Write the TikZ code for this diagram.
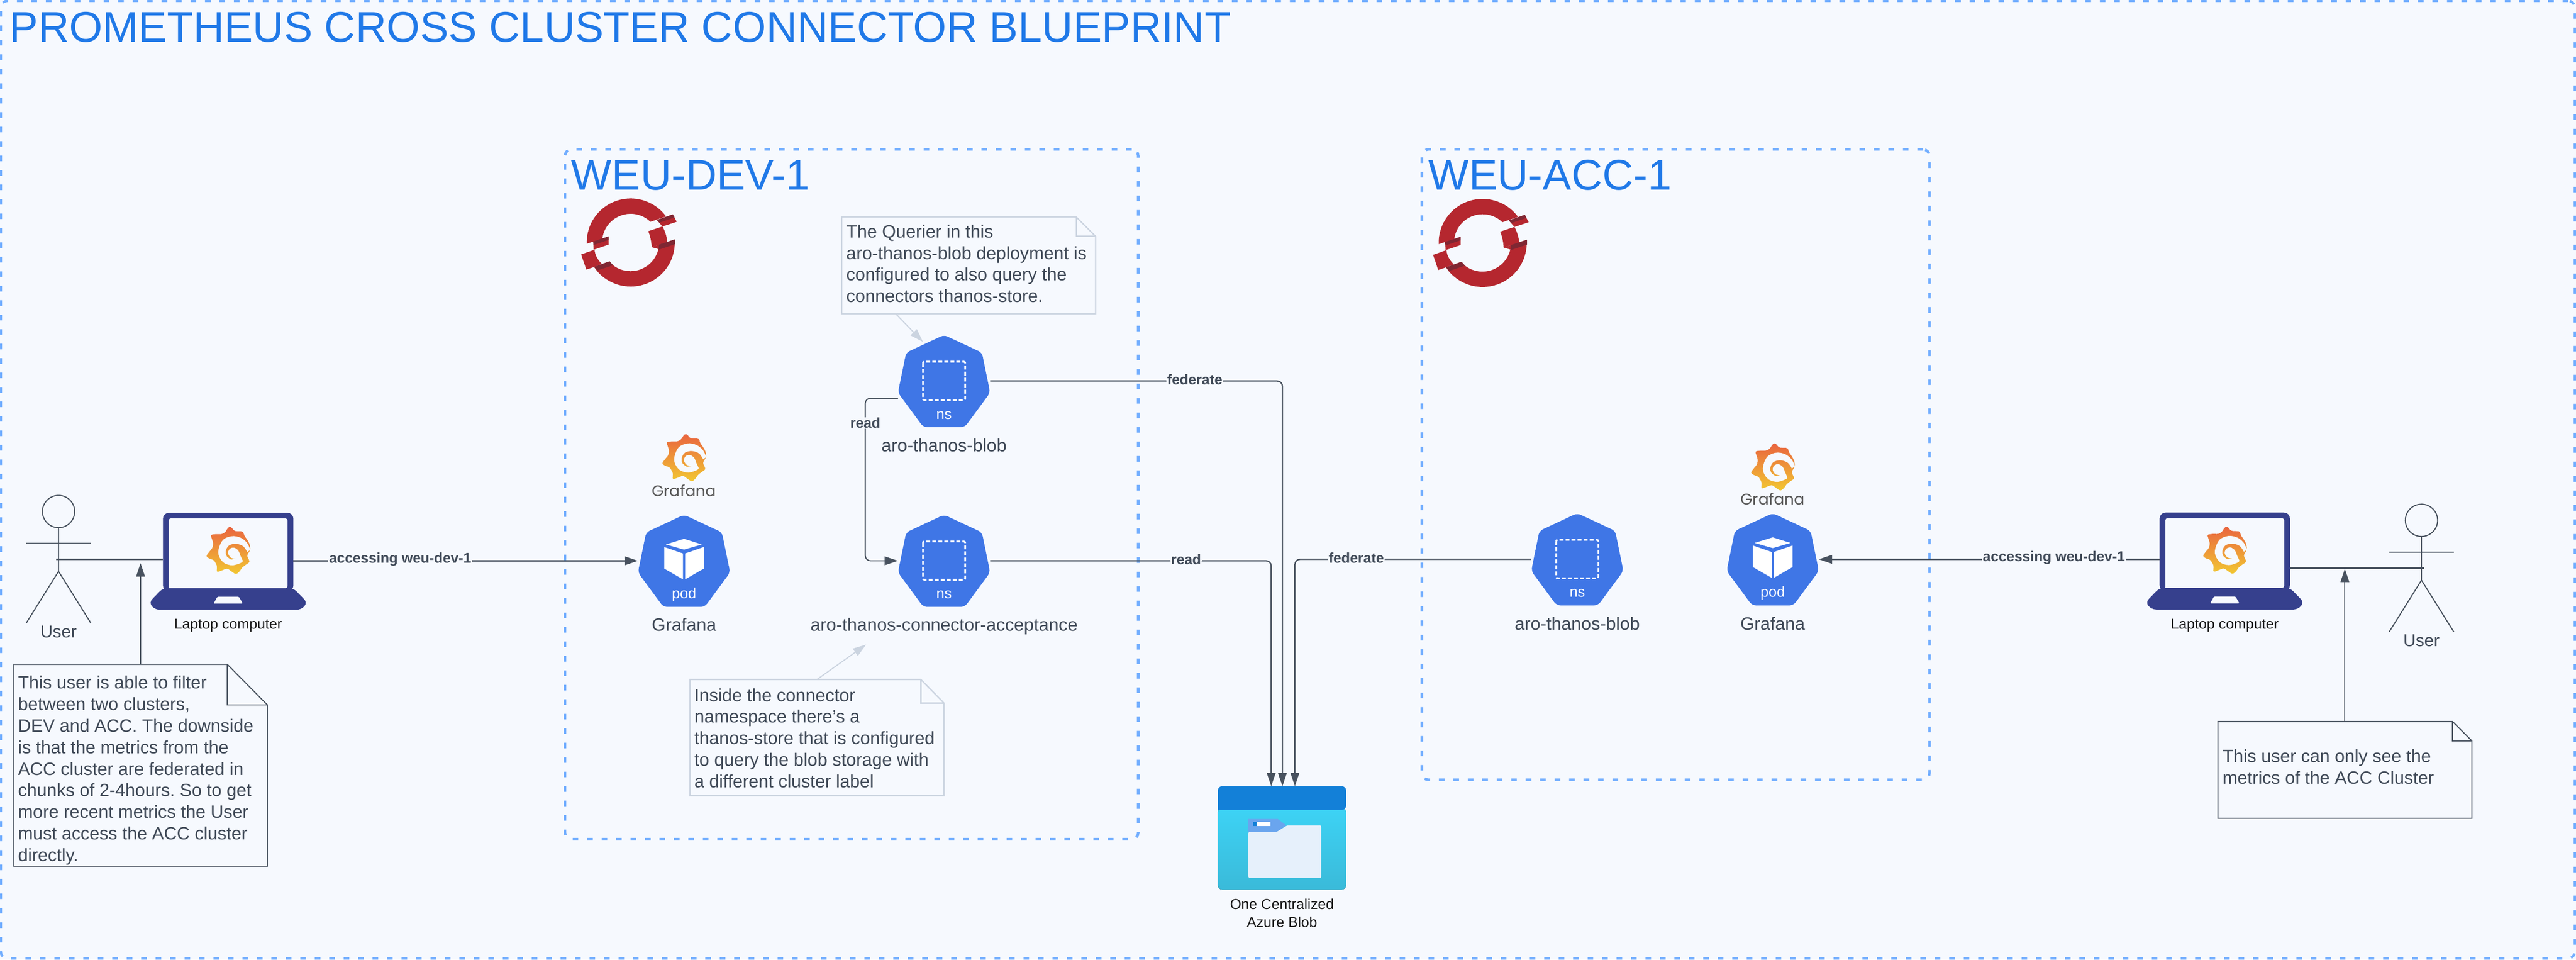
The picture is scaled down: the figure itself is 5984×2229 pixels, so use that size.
\documentclass[tikz,border=0pt]{standalone}
\usepackage{fontspec}
\setmainfont{Liberation Sans}
\newfontfamily\wordfont{Poppins}
\usetikzlibrary{positioning, arrows.meta}
\frenchspacing

\definecolor{pagebg}{HTML}{F6F9FE}
\definecolor{framecol}{HTML}{72AEFF}
\definecolor{titlecol}{HTML}{2079E8}
\definecolor{linkcol}{HTML}{48525F}
\definecolor{inkcol}{HTML}{404A58}
\definecolor{palecol}{HTML}{CBD4E0}
\definecolor{kubecol}{HTML}{3F76E6}
\definecolor{lapcol}{HTML}{36408D}
\definecolor{osred}{HTML}{B5272F}
\definecolor{osdark}{HTML}{7F2733}
\definecolor{grafanatop}{HTML}{E9633F}
\definecolor{grafanabot}{HTML}{F2C832}
\definecolor{azuretop}{HTML}{3DD3F5}
\definecolor{azurebot}{HTML}{3ABAD9}
\definecolor{azurehead}{HTML}{1380D8}
\definecolor{foldertab}{HTML}{6AA5EE}
\definecolor{folderbody}{HTML}{E6F0FB}

\newcommand{\dogear}[4]{
	\draw[#2] (#1.north west) -- ([xshift=-#3]#1.north east) -- ([yshift=-#4]#1.north east) -- (#1.south east) -- (#1.south west) -- cycle;
	\draw[#2] ([xshift=-#3]#1.north east) |- ([yshift=-#4]#1.north east);
}

\tikzset{
	framebox/.style={draw=framecol, line width=6pt, rounded corners=15pt, dash pattern=on 13pt off 20.6pt},
	titletext/.style={text=titlecol, font=\fontsize{99.8pt}{110pt}\selectfont},
	kubebox/.style={minimum width=214pt, minimum height=214pt},
	tagtext/.style={text=white, text depth=0pt, font=\fontsize{34pt}{40pt}\selectfont},
	nametext/.style={text=inkcol, text height=30pt, text depth=9pt, font=\fontsize{41.5pt}{50pt}\selectfont},
	wordtext/.style={text=black!65, font=\wordfont\fontsize{36pt}{40pt}\selectfont},
	captiontext/.style={text=black!90, align=center, font=\fontsize{33.4pt}{41pt}\selectfont},
	linklabel/.style={text=inkcol, fill=pagebg, inner xsep=2pt, inner ysep=1pt, yshift=3pt, font=\bfseries\fontsize{33pt}{40pt}\selectfont},
	link/.style={draw=linkcol, line width=3pt},
	palelink/.style={draw=palecol, line width=2.5pt},
	notetext/.style={text=inkcol, align=left, anchor=north west, font=\fontsize{41.5pt}{50pt}\selectfont},
	notedark/.style={draw=linkcol, line width=2.5pt},
	notepale/.style={draw=palecol, line width=3pt},
	pics/kubeshape/.style={code={
		\fill[kubecol, rounded corners=9pt] (0,-107) -- (88,-66) -- (107,27) -- (48,107) -- (-48,107) -- (-107,27) -- (-88,-66) -- cycle;
	}},
	pics/kubens/.style={code={
		\pic {kubeshape};
		\draw[white, line width=4pt, rounded corners=3pt, dash pattern=on 9pt off 5pt] (-49,-45) rectangle (49,44);
	}},
	pics/kubepod/.style={code={
		\pic {kubeshape};
		\fill[white] (0,-51) -- (41,-38) -- (0,-26) -- (-42,-38) -- cycle;
		\fill[white] (-46,-32) -- (-2.5,-17) -- (-2.5,43) -- (-46,18) -- cycle;
		\fill[white] (2.5,-17) -- (46,-32) -- (46,18) -- (2.5,43) -- cycle;
	}},
	pics/grafana/.style={code={
		\begin{scope}[x=.3333pt, y=-.3333pt, shift={(-195,-203)}]
			\path[top color=grafanatop, bottom color=grafanabot, rounded corners=4pt] (208,36) -- (222,48) -- (238,70) -- (300,72) -- (307,102) -- (325,125) -- (345,160) -- (350,200) -- (325,240) -- (347,285) -- (320,302) -- (290,325) -- (278,347) -- (250,372) -- (225,355) -- (188,328) -- (160,340) -- (115,357) -- (118,310) -- (95,270) -- (65,262) -- (40,245) -- (68,208) -- (85,190) -- (92,155) -- (72,95) -- (115,90) -- (150,92) -- (178,75) -- (190,50) -- cycle;
			\fill[pagebg] plot[smooth, tension=.6] coordinates {(350,200) (325,150) (280,115) (220,105) (160,130) (130,190) (130,240) (165,290) (225,308) (285,290) (297,276)}
				-- plot[smooth, tension=.6] coordinates {(280,240) (265,205) (235,185) (205,195) (195,225) (215,255) (250,262)}
				-- plot[smooth, tension=.6] coordinates {(215,268) (185,245) (178,210) (200,170) (250,158) (300,175) (328,215)} -- cycle;
		\end{scope}
	}},
	pics/openshift/.style={code={
		\fill[osred] (178.3:102) arc[start angle=178.3, end angle=323.7, radius=102] -- (46,-48) arc[start angle=313.8, end angle=187.9, radius=66.5] -- (-51,-14) -- (-51,5) -- (-86,17) -- (-87,-2) -- cycle;
		\fill[osred] (61,-52) -- (98,-65) -- (107,-48) -- (74,-37) -- cycle;
		\fill[osred] (41,-26) -- (74,-37) .. controls (81,-24) and (84,-12) .. (85,-1) -- (49,11) .. controls (48,-3) and (46,-13) .. cycle;
		\fill[osred] (-3.9:102.5) arc[start angle=-3.9, end angle=139.8, radius=102.5] -- (-85,57) -- (-49,44) -- (-41,53) arc[start angle=127.7, end angle=13, radius=66.5] -- (49,11) -- cycle;
		\fill[osred] (-115,28) -- (-84,17) .. controls (-83,30) and (-76,41) .. (-67,50) -- (-85,57) -- (-103,63) -- cycle;
		\fill[osdark] (-87,-2) -- (-51,-14) -- (-51,-6) -- (-86,6) -- cycle;
		\fill[osdark] (61,-52) -- (98,-65) -- (102,-58) -- (67,-46) -- cycle;
		\fill[osdark] (103,-7) -- (103,4) -- (65,17) -- (66,5) -- cycle;
		\fill[osdark] (-85,57) -- (-49,44) -- (-41,53) -- (-77,65) -- cycle;
	}},
	pics/laptop/.style={code={
		\fill[lapcol, rounded corners=14pt] (-151.5,70) -- (-151.5,-112.5) -- (151.5,-112.5) -- (151.5,70) -- cycle;
		\fill[lapcol, rounded corners=10pt] (-151.5,62.5) -- (-184,96) -- (-170,112.5) -- (170,112.5) -- (184,96) -- (151.5,62.5) -- cycle;
		\fill[pagebg, rounded corners=5pt] (-138,62.5) -- (-138,-99.5) -- (138,-99.5) -- (138,62.5) [sharp corners] -- cycle;
		\fill[pagebg, rounded corners=2pt] (-25,82.5) -- (25,82.5) -- (34,98.5) -- (-34,98.5) -- cycle;
		\pic at (0,-25.5) {grafana};
	}},
	pics/actor/.style={code={
		\draw[linkcol, line width=2.5pt] (0,-111) circle[radius=37.5];
		\draw[linkcol, line width=2.5pt] (0,-73.5) -- (0,28) (-75,-37) -- (75,-37) (-75,148) -- (0,28) -- (75,148);
	}},
	pics/azureblob/.style={code={
		\fill[top color=azuretop, bottom color=azurebot, rounded corners=10pt] (-149,-70) rectangle (149,120);
		\fill[azurehead, rounded corners=10pt] (-149,-65) -- (-149,-120) -- (149,-120) -- (149,-65) [sharp corners] -- cycle;
		\fill[foldertab] (-78,-14) -- (-78,-44) -- (-10,-44) -- (10,-29) -- (-12,-14) -- cycle;
		\fill[folderbody, rounded corners=3pt] (-78,-14) -- (-12,-14) -- (12,-29) -- (91,-29) -- (91,93) -- (-78,93) -- cycle;
		\fill[white] (-67,-37) rectangle (-27,-28);
		\fill[azurehead] (-67,-37) rectangle (-59,-28);
	}},
}

\begin{document}
\begin{tikzpicture}[x=1pt, y=-1pt, >={Triangle[length=31pt,width=20pt]}, every node/.style={inner sep=0pt, outer sep=0pt}]
	\useasboundingbox (0,0) rectangle (5984,2229);
	\fill[pagebg] (0,0) rectangle (5984,2229);

	\node[framebox, line width=5.5pt, minimum width=5979pt, minimum height=2224pt] (outer) at (2991.5,1114) {};
	\node[titletext, anchor=base west] (title) at ([shift={(20pt,-95pt)}]outer.north west) {PROMETHEUS CROSS CLUSTER CONNECTOR BLUEPRINT};

	\node[framebox, minimum width=1331.5pt, minimum height=1602pt] (clusterDev) at (1978.25,1148) {};
	\node[framebox, minimum width=1179pt, minimum height=1464pt] (clusterAcc) at (3892.5,1079) {};
	\node[titletext, anchor=base west] (titleDev) at ([shift={(14.5pt,-94pt)}]clusterDev.north west) {WEU-DEV-1};
	\node[titletext, anchor=base west] (titleAcc) at ([shift={(15pt,-94pt)}]clusterAcc.north west) {WEU-ACC-1};
	\pic at (1465,563) {openshift};
	\pic at (3444,564) {openshift};

	\node[kubebox] (grafanaDev) at (1589,1302.5) {};
	\node[kubebox] (blobDev) at (2193,885) {};
	\node[kubebox] (connDev) at (2193,1302.5) {};
	\node[kubebox] (blobAcc) at (3664,1299) {};
	\node[kubebox] (grafanaAcc) at (4118,1299) {};
	\node[minimum width=298pt, minimum height=240pt] (azure) at (2978,1946) {};
	\node[minimum width=303pt, minimum height=225pt] (lapLeft) at (530,1303.5) {};
	\node[minimum width=303pt, minimum height=225pt] (lapRight) at (5168,1303) {};
	\node[minimum width=150pt, minimum height=296pt] (userLeft) at (136,1299) {};
	\node[minimum width=150pt, minimum height=296pt] (userRight) at (5625,1319.5) {};

	\pic at (grafanaDev) {kubepod};
	\pic at (blobDev) {kubens};
	\pic at (connDev) {kubens};
	\pic at (blobAcc) {kubens};
	\pic at (grafanaAcc) {kubepod};
	\pic at (azure) {azureblob};
	\pic at (lapLeft) {laptop};
	\pic at (lapRight) {laptop};
	\pic at (userLeft) {actor};
	\pic at (userRight) {actor};

	\node[tagtext, above=19pt of grafanaDev.south] (tagPodDev) {pod};
	\node[tagtext, above=19pt of blobDev.south] (tagBlobDev) {ns};
	\node[tagtext, above=19pt of connDev.south] (tagConnDev) {ns};
	\node[tagtext, above=19pt of blobAcc.south] (tagBlobAcc) {ns};
	\node[tagtext, above=19pt of grafanaAcc.south] (tagPodAcc) {pod};

	\node[nametext, below=26.5pt of grafanaDev] (nameGrafanaDev) {Grafana};
	\node[nametext, below=26.5pt of blobDev] (nameBlobDev) {aro-thanos-blob};
	\node[nametext, below=26.5pt of connDev] (nameConnDev) {aro-thanos-connector-acceptance};
	\node[nametext, below=26.5pt of blobAcc] (nameBlobAcc) {aro-thanos-blob};
	\node[nametext, below=26.5pt of grafanaAcc] (nameGrafanaAcc) {Grafana};

	\node[wordtext, above=42pt of grafanaDev] (wordDev) {Grafana};
	\node[wordtext, above=19pt of grafanaAcc] (wordAcc) {Grafana};
	\pic at ([yshift=77pt]wordDev.center) {grafana};
	\pic at ([yshift=75pt]wordAcc.center) {grafana};

	\node[captiontext, below=22pt of azure] (captionAzure) {One Centralized\\Azure Blob};
	\node[captiontext, below=22pt of lapLeft] (captionLapLeft) {Laptop computer};
	\node[captiontext, below=22pt of lapRight] (captionLapRight) {Laptop computer};
	\node[nametext, text height=29pt, text depth=0pt, font=\fontsize{40pt}{48pt}\selectfont, below=5pt of userLeft] (captionUserLeft) {User};
	\node[nametext, text height=29pt, text depth=0pt, font=\fontsize{40pt}{48pt}\selectfont, below=5pt of userRight] (captionUserRight) {User};

	\node[minimum width=589pt, minimum height=469pt] (noteLeft) at (326.5,1777.5) {};
	\node[minimum width=590pt, minimum height=225pt] (noteBlob) at (2250,616.5) {};
	\node[minimum width=590pt, minimum height=270pt] (noteConn) at (1898,1713) {};
	\node[minimum width=590pt, minimum height=224.5pt] (noteRight) at (5447,1788) {};
	\dogear{noteLeft}{notedark}{93pt}{94pt}
	\dogear{noteBlob}{notepale}{45pt}{45pt}
	\dogear{noteConn}{notepale}{54pt}{55pt}
	\dogear{noteRight}{notedark}{45pt}{45pt}
	\node[notetext] (textLeft) at ([shift={(10pt,-27pt)}]noteLeft.north west) {This user is able to filter\\between two clusters,\\DEV and ACC. The downside\\is that the metrics from the\\ACC cluster are federated in\\chunks of 2-4hours. So to get\\more recent metrics the User\\must access the ACC cluster\\directly.};
	\node[notetext] (textBlob) at ([shift={(11pt,-18pt)}]noteBlob.north west) {The Querier in this\\aro-thanos-blob deployment is\\configured to also query the\\connectors thanos-store.};
	\node[notetext] (textConn) at ([shift={(10pt,-21pt)}]noteConn.north west) {Inside the connector\\namespace there's a\\thanos-store that is configured\\to query the blob storage with\\a different cluster label};
	\node[notetext] (textRight) at ([shift={(11pt,-65pt)}]noteRight.north west) {This user can only see the\\metrics of the ACC Cluster};

	\coordinate (tipLeft) at (326.5,1308);
	\coordinate (tipRight) at (5447,1321);
	\coordinate (tipBlob) at (2144,794);
	\coordinate (tipConn) at (2012,1497);

	\draw[link] (userLeft.center -| lapLeft.west) -- ([xshift=-5pt]userLeft.center);
	\draw[link] (userRight.center -| lapRight.east) -- ([xshift=6pt]userRight.center);
	\draw[link, ->] (grafanaDev.west -| lapLeft.east) -- node[linklabel, pos=.31] (labelAccessDev) {accessing weu-dev-1} (grafanaDev.west);
	\draw[link, ->] (grafanaAcc.east -| lapRight.west) -- node[linklabel, pos=.31] (labelAccessAcc) {accessing weu-dev-1} (grafanaAcc.east);
	\draw[link, ->, rounded corners=12pt] (blobDev.east) -| node[linklabel, pos=.35] (labelFedDev) {federate} ([xshift=1pt]azure.north);
	\draw[link, ->, rounded corners=12pt] (connDev.east) -| node[linklabel, pos=.3486] (labelReadAzure) {read} ([xshift=-25pt]azure.north);
	\draw[link, ->, rounded corners=12pt] (blobAcc.west) -| node[linklabel, pos=.37] (labelFedAcc) {federate} ([xshift=30pt]azure.north);
	\draw[link, ->, line width=2.5pt, rounded corners=12pt] ([yshift=-40pt]blobDev.west) -- ++(-76,0) |- node[linklabel, yshift=-3pt, pos=.076] (labelReadConn) {read} (connDev.west);

	\draw[notedark, ->] (noteLeft.north) -- (tipLeft);
	\draw[notedark, ->] (noteRight.north) -- (tipRight);
	\draw[palelink, ->] ([xshift=-169pt]noteBlob.south) -- (tipBlob);
	\draw[palelink, ->] (noteConn.north) -- (tipConn);
\end{tikzpicture}
\end{document}
